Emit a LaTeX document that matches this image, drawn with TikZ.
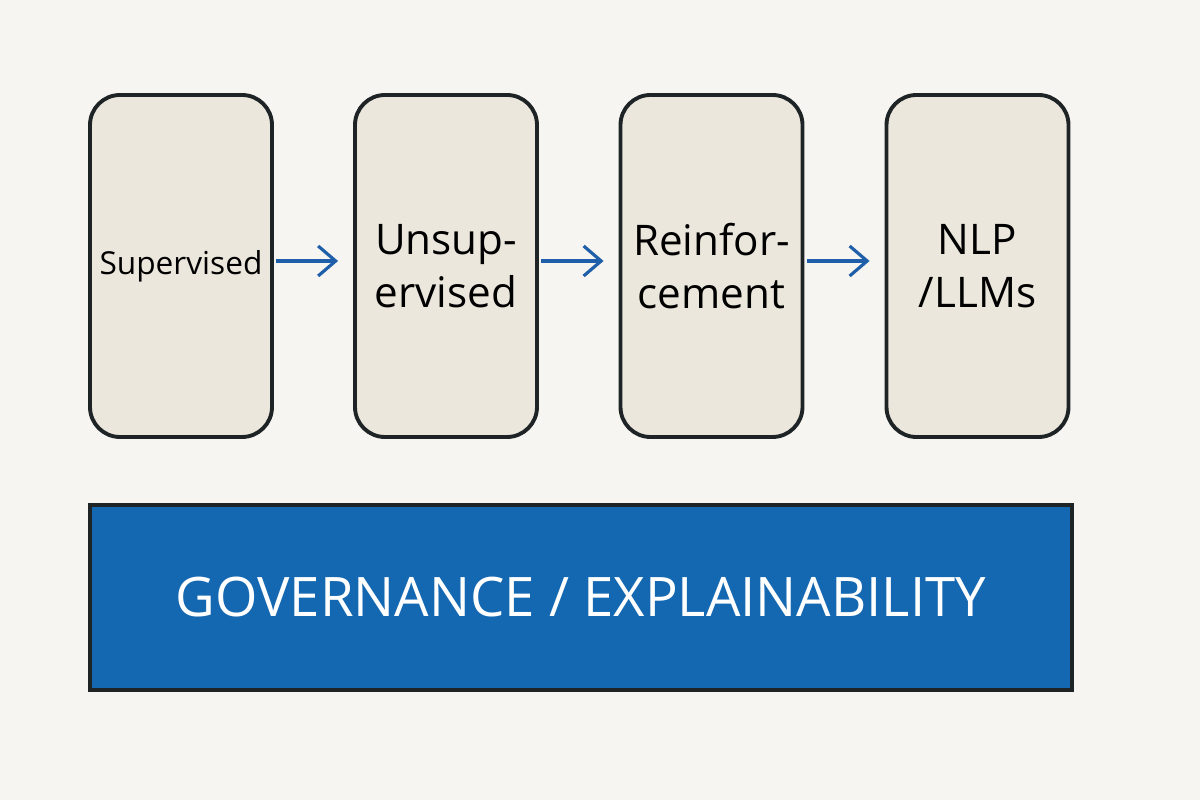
\documentclass[tikz,border=0pt]{standalone}
\usepackage{fontspec}
\setmainfont{Open Sans}
\usetikzlibrary{arrows.meta}
\definecolor{bgcol}{HTML}{F7F5F1}
\definecolor{boxfill}{HTML}{ECE7DD}
\definecolor{edgecol}{HTML}{1E2326}
\definecolor{flowblue}{HTML}{1F5FAA}
\definecolor{barblue}{HTML}{1468B1}
\tikzset{
  stage/.style={draw=edgecol, fill=boxfill, line width=2.2pt, rounded corners=0.6cm,
    minimum width=3.64cm, minimum height=6.84cm, align=center, inner sep=0pt,
    font=\fontsize{24}{30}\selectfont},
  flow/.style={draw=flowblue, line width=1.8pt, -{Straight Barb[length=0.35cm, width=0.6cm, line width=1.8pt]},
    shorten <=0.05cm, shorten >=0.3cm}
}
\begin{document}
\begin{tikzpicture}
  \fill[bgcol] (0,0) rectangle (24,16);
  \useasboundingbox (0,0) rectangle (24,16);

  % Stages
  \node[stage, font=\fontsize{18}{22}\selectfont] (sup) at (3.62,10.68) {Supervised};
  \node[stage] (unsup) at (8.92,10.68) {Unsup-\\ervised};
  \node[stage] (reinf) at (14.23,10.68) {Reinfor-\\cement};
  \node[stage] (nlp) at (19.55,10.68) {NLP\\/LLMs};

  % Arrows
  \draw[flow] (sup.east) ++(0,0.1) coordinate (a1) -- (unsup.west |- a1);
  \draw[flow] (unsup.east) ++(0,0.1) coordinate (a2) -- (reinf.west |- a2);
  \draw[flow] (reinf.east) ++(0,0.1) coordinate (a3) -- (nlp.west |- a3);

  % Bar
  \node[draw=edgecol, fill=barblue, line width=1.8pt, minimum width=19.64cm, minimum height=3.7cm,
    text=white, font=\fontsize{31}{36}\selectfont] (gov) at (11.62,4.05) {GOVERNANCE / EXPLAINABILITY};
\end{tikzpicture}
\end{document}
